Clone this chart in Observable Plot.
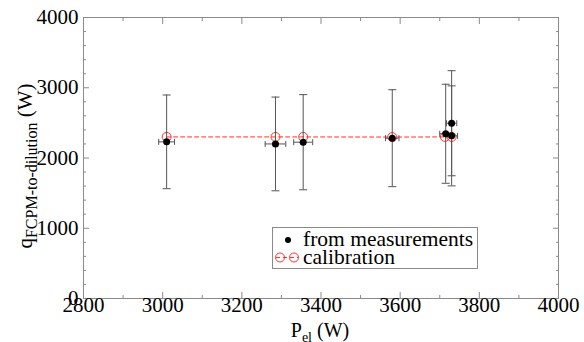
<!DOCTYPE html>
<html>
<head>
<meta charset="utf-8">
<script src="https://cdn.jsdelivr.net/npm/d3@7"></script>
<script src="https://cdn.jsdelivr.net/npm/@observablehq/plot@0.6"></script>
<style>
  html, body { margin: 0; padding: 0; background: #fff; }
</style>
</head>
<body>
<div id="chart"></div>
<script>
// ---- data ----
const measP    = [3010, 3285, 3355, 3580, 3715, 3730, 3730];   // P_el (W)
const measQ    = [2230, 2200, 2225, 2282, 2345, 2495, 2315];   // q (W)
const measQErr = [667, 667, 677, 690, 705, 748, 712];          // ± on q
const measPErr = [20, 26, 24, 17, 15, 13, 15];                 // ± on P_el
const calP     = [3010, 3285, 3355, 3580, 3713, 3730];
const calQ     = [2300, 2300, 2300, 2298, 2300, 2300];

const xMajor = [2800, 3000, 3200, 3400, 3600, 3800, 4000];
const xMinor = [2900, 3100, 3300, 3500, 3700, 3900];
const yMajor = [0, 1000, 2000, 3000, 4000];
const yMinor = [200, 400, 600, 800, 1200, 1400, 1600, 1800, 2200, 2400, 2600, 2800, 3200, 3400, 3600, 3800];

const seriesNames = ["from measurements", "calibration"];

const meas = measP.map((p, i) => ({p, q: measQ[i], qe: measQErr[i], pe: measPErr[i]}));
const cal = calP.map((p, i) => ({p, q: calQ[i]}));

const hCap = {draw(ctx, size) { const r = Math.sqrt(size / Math.PI); ctx.moveTo(-r, 0); ctx.lineTo(r, 0); }};
const vCap = {draw(ctx, size) { const r = Math.sqrt(size / Math.PI); ctx.moveTo(0, -r); ctx.lineTo(0, r); }};

const axisGray = "#8a8a8a";
const errGray = "#555";
const red = "#ff3030";
const serif = "Liberation Serif";

const W = 584, H = 342;
const chart = Plot.plot({
  width: W,
  height: H,
  marginLeft: 83,
  marginRight: 26,
  marginTop: 17,
  marginBottom: 44,
  style: {fontFamily: serif, fontSize: "20px"},
  x: {domain: [2800, 4000]},
  y: {domain: [0, 4000]},
  marks: [
    Plot.frame({stroke: axisGray}),
    // inward ticks on all four sides
    Plot.axisX(xMajor, {anchor: "bottom", tickSize: -6, fill: "none", stroke: axisGray, label: null}),
    Plot.axisX(xMinor, {anchor: "bottom", tickSize: -3, fill: "none", stroke: axisGray, label: null}),
    Plot.axisX(xMajor, {anchor: "top", tickSize: -6, fill: "none", stroke: axisGray, label: null}),
    Plot.axisX(xMinor, {anchor: "top", tickSize: -3, fill: "none", stroke: axisGray, label: null}),
    Plot.axisY(yMajor, {anchor: "left", tickSize: -6, fill: "none", stroke: axisGray, label: null}),
    Plot.axisY(yMinor, {anchor: "left", tickSize: -3, fill: "none", stroke: axisGray, label: null}),
    Plot.axisY(yMajor, {anchor: "right", tickSize: -6, fill: "none", stroke: axisGray, label: null}),
    Plot.axisY(yMinor, {anchor: "right", tickSize: -3, fill: "none", stroke: axisGray, label: null}),
    // tick labels
    Plot.axisX(xMajor, {anchor: "bottom", tickSize: 0, tickPadding: -1, fontSize: 21, fontFamily: serif, label: null, tickFormat: d => String(d)}),
    Plot.axisY(yMajor, {anchor: "left", tickSize: 0, tickPadding: 5, fontSize: 21, fontFamily: serif, label: null, tickFormat: d => String(d)}),
    // calibration
    Plot.line(cal, {x: "p", y: "q", stroke: red, strokeWidth: 1, strokeDasharray: "4,3"}),
    Plot.dot(cal, {x: "p", y: "q", r: 4.5, stroke: red, fill: "none", strokeWidth: 1}),
    // error bars
    Plot.ruleX(meas, {x: "p", y1: d => d.q - d.qe, y2: d => d.q + d.qe, stroke: errGray, strokeWidth: 1}),
    Plot.dot(meas, {x: "p", y: d => d.q + d.qe, r: 4, symbol: hCap, stroke: errGray, fill: "none", strokeWidth: 1}),
    Plot.dot(meas, {x: "p", y: d => d.q - d.qe, r: 4, symbol: hCap, stroke: errGray, fill: "none", strokeWidth: 1}),
    Plot.ruleY(meas, {y: "q", x1: d => d.p - d.pe, x2: d => d.p + d.pe, stroke: errGray, strokeWidth: 1}),
    Plot.dot(meas, {x: d => d.p - d.pe, y: "q", r: 3, symbol: vCap, stroke: errGray, fill: "none", strokeWidth: 1}),
    Plot.dot(meas, {x: d => d.p + d.pe, y: "q", r: 3, symbol: vCap, stroke: errGray, fill: "none", strokeWidth: 1}),
    // measurements
    Plot.dot(meas, {x: "p", y: "q", r: 3.5, fill: "black", stroke: "none"})
  ]
});
document.getElementById("chart").appendChild(chart);

// ---- axis titles with subscripts ----
const svg = d3.select(chart);
const xt = svg.append("text")
  .attr("x", 320).attr("y", 337)
  .attr("text-anchor", "middle")
  .attr("font-family", serif)
  .attr("font-size", 20)
  .attr("fill", "black");
xt.append("tspan").text("P");
xt.append("tspan").attr("font-size", 14).attr("dy", 5).text("el");
xt.append("tspan").attr("dy", -5).text(" (W)");

const yt = svg.append("text")
  .attr("transform", "translate(32,166) rotate(-90)")
  .attr("text-anchor", "middle")
  .attr("font-family", serif)
  .attr("font-size", 21)
  .attr("fill", "black");
yt.append("tspan").text("q");
yt.append("tspan").attr("font-size", 16).attr("dy", 5).text("FCPM-to-dilution");
yt.append("tspan").attr("dy", -5).text(" (W)");

// ---- legend ----
const lg = svg.append("g").attr("text-anchor", "start").attr("font-family", serif);
lg.append("rect").attr("x", 272.5).attr("y", 227.5).attr("width", 205).attr("height", 41)
  .attr("fill", "white").attr("stroke", axisGray);
lg.append("circle").attr("cx", 288).attr("cy", 240).attr("r", 3).attr("fill", "black");
lg.append("line").attr("x1", 276).attr("x2", 298).attr("y1", 257.5).attr("y2", 257.5)
  .attr("stroke", red).attr("stroke-dasharray", "4,3");
[280, 294].forEach(cx => lg.append("circle").attr("cx", cx).attr("cy", 257.5).attr("r", 4.5)
  .attr("fill", "none").attr("stroke", red));
lg.append("text").attr("x", 303).attr("y", 246).attr("text-anchor", "start").attr("font-family", serif).attr("font-size", 21.5).attr("fill", "black").text(seriesNames[0]);
lg.append("text").attr("x", 303).attr("y", 264).attr("text-anchor", "start").attr("font-family", serif).attr("font-size", 21.5).attr("fill", "black").text(seriesNames[1]);
</script>
</body>
</html>
